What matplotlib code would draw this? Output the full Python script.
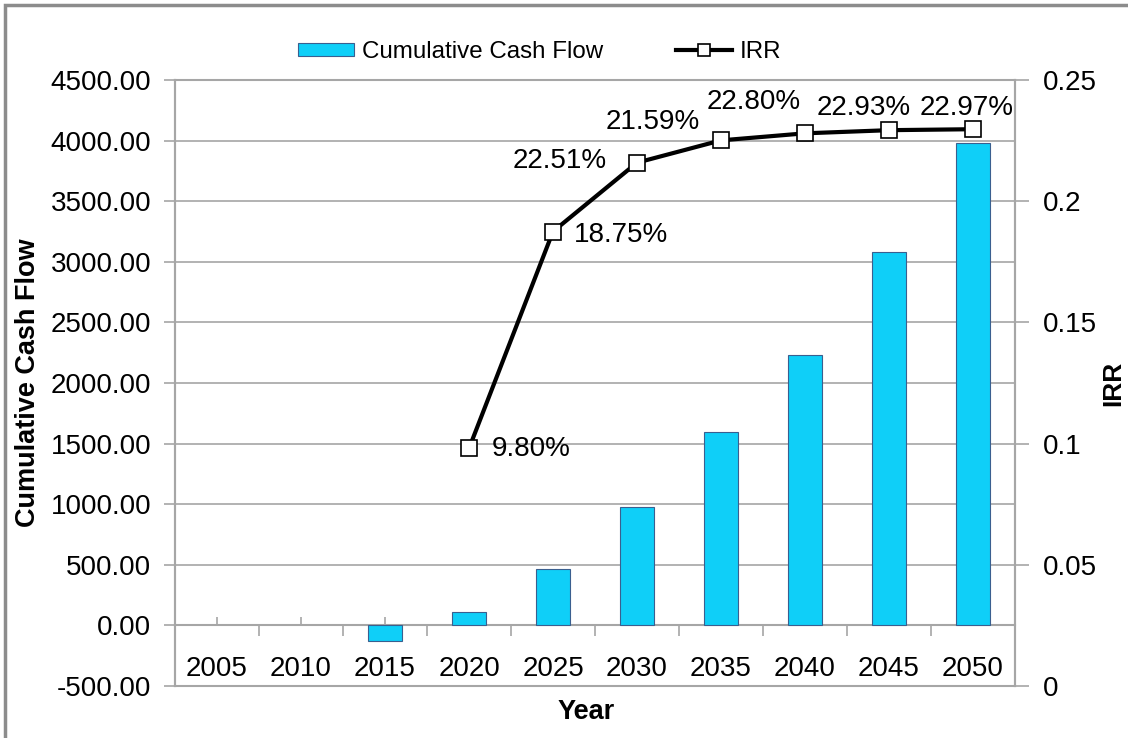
import matplotlib
matplotlib.use("Agg")
import matplotlib.pyplot as plt
from matplotlib.patches import Rectangle
from matplotlib.ticker import FixedLocator, FuncFormatter

plt.rcParams["font.family"] = ["Liberation Sans", "DejaVu Sans"]

# ------------------------------------------------------------
# Data
# ------------------------------------------------------------
years = ["2005", "2010", "2015", "2020", "2025", "2030", "2035", "2040", "2045", "2050"]
cash_flow = [0, 0, -125, 108, 462, 975, 1592, 2228, 3077, 3977]

irr_years = ["2020", "2025", "2030", "2035", "2040", "2045", "2050"]
irr = [0.0980, 0.1875, 0.2159, 0.2251, 0.2280, 0.2293, 0.2297]

# data labels as they sit in the picture (text, x category index, y in IRR units)
label_texts = ["9.80%", "18.75%", "22.51%", "21.59%", "22.80%", "22.93%", "22.97%"]
label_x = [3.74, 4.81, 4.08, 5.19, 6.39, 7.70, 8.92]
label_y = [0.0978, 0.1860, 0.2166, 0.2327, 0.2410, 0.2384, 0.2384]

BAR_COLOR = "#0FCFF8"
BAR_EDGE = "#3A5F8F"
GRID = "#A6A6A6"
FS = 20

fig = plt.figure(figsize=(11.28, 7.38), dpi=100)
ax = fig.add_axes([175 / 1128, 1 - 686 / 738, 840 / 1128, 606 / 738])
ax2 = ax.twinx()

x = list(range(len(years)))
edges = [BAR_EDGE if v != 0 else "none" for v in cash_flow]
ax.bar(x, cash_flow, width=0.41, color=BAR_COLOR, edgecolor=edges,
       linewidth=0.8, label="Cumulative Cash Flow", zorder=3)

irr_x = [years.index(y) for y in irr_years]
ax2.plot(irr_x, irr, color="black", linewidth=3, marker="s", markersize=11,
         markerfacecolor="white", markeredgecolor="black", markeredgewidth=1.2,
         label="IRR", zorder=4)

for t, lx, ly in zip(label_texts, label_x, label_y):
    ax2.text(lx, ly, t, fontsize=FS, ha="center", va="center", zorder=5)

# ------------------------------------------------------------
# Axes styling
# ------------------------------------------------------------
ax.set_xlim(-0.5, len(years) - 0.5)
ax.set_ylim(-500, 4500)
ax2.set_ylim(0, 0.25)

ax.set_yticks(range(-500, 4501, 500))
ax.yaxis.set_major_formatter(FuncFormatter(lambda v, p: f"{v:.2f}"))
ax.yaxis.grid(True, color=GRID, linewidth=1.2, zorder=0)
ax.set_axisbelow(True)

ax2.set_yticks([0, 0.05, 0.1, 0.15, 0.2, 0.25])
ax2.yaxis.set_major_formatter(FuncFormatter(lambda v, p: f"{v:g}"))

# category axis sits on the zero line
ax.spines["bottom"].set_position(("data", 0))
ax.xaxis.set_major_locator(FixedLocator([i + 0.5 for i in range(-1, len(years))]))
ax.xaxis.set_major_formatter(FuncFormatter(lambda v, p: ""))
ax.set_xticks(x, years, minor=True)
ax.tick_params(axis="x", which="major", direction="out", length=8, width=1.2, color=GRID)
ax.tick_params(axis="x", which="minor", direction="in", length=6, width=1.2, color=GRID,
               labelsize=FS, pad=22)

ax.tick_params(axis="y", direction="out", length=8, width=1.2, color=GRID, labelsize=FS, pad=9)
ax2.tick_params(axis="y", direction="out", length=10, width=1.2, color=GRID, labelsize=FS, pad=10)

for a in (ax, ax2):
    for s in a.spines.values():
        s.set_color(GRID)
        s.set_linewidth(1.5)
ax.spines["top"].set_visible(False)

ax.set_ylabel("Cumulative Cash Flow", fontsize=19.5, fontweight="bold")
ax.yaxis.set_label_coords(-0.160, 0.5)
ax2.set_ylabel("IRR", fontsize=19, fontweight="bold")
ax2.yaxis.set_label_coords(1.103, 0.5)
ax.set_xlabel("Year", fontsize=19.5, fontweight="bold")
ax.xaxis.set_label_coords(0.49, -0.022)

# legend above the plot area
h1, l1 = ax.get_legend_handles_labels()
h2, l2 = ax2.get_legend_handles_labels()
leg = fig.legend(h1 + h2, l1 + l2, loc="center", bbox_to_anchor=(540 / 1128, 1 - 52 / 738),
                 ncol=2, frameon=False, fontsize=17.4, handlelength=2.3, handleheight=0.5,
                 handletextpad=0.35, columnspacing=3.0, numpoints=1)
for lh in leg.legend_handles:
    if hasattr(lh, "set_markersize"):
        lh.set_markersize(9)
    else:
        lh.set_edgecolor(BAR_EDGE)
        lh.set_linewidth(0.8)

# outer chart frame (only top and left edges fall inside the picture)
fig.patches.append(Rectangle((5 / 1128, -0.05), 1.2, 1.05 - 5 / 738, transform=fig.transFigure,
                             fill=False, edgecolor="#8C8C8C", linewidth=2.5))

fig.savefig("out.png", dpi=100)
print("Generated out.png")
